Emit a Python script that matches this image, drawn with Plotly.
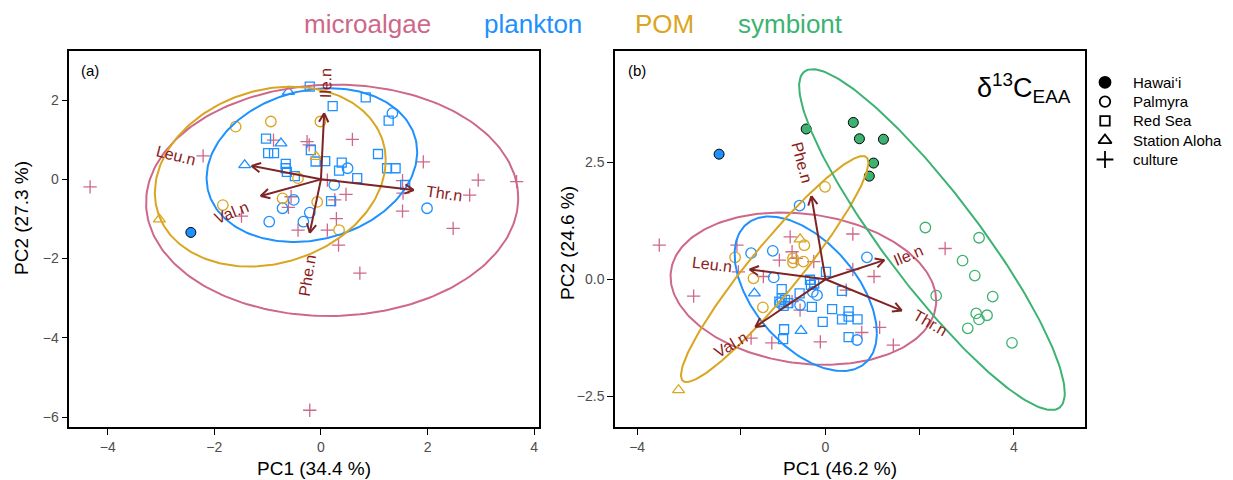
import numpy as np
import plotly.graph_objects as go

W, H = 1233, 480

COL_MICRO = "#CD6889"
COL_PLANK = "#1E90FF"
COL_POM = "#DAA520"
COL_SYMB = "#3CB371"
ARROW_COL = "#7F2424"
LABEL_COL = "#8B1A1A"

# ---------------- Panel (a) data ----------------
a_micro_culture_x = [-4.33, -2.21, -1.49, -0.89, -0.26, -0.22, 0.12, 0.47, 0.26, -0.56, -0.61, 0.29, -0.43,
                     0.12, 0.33, 0.73, 0.59, 1.92, 1.53, 1.54, 1.53, 2.79, 2.95, 2.48, 3.67, -0.21]
a_micro_culture_y = [-0.19, 0.59, -0.93, 0.99, 0.95, 0.87, -0.02, -0.38, -0.52, -0.44, -0.71, -0.99, -1.28,
                     -1.28, -1.66, -2.37, 1.01, 0.44, -0.03, -0.35, -0.80, -0.40, -0.02, -1.24, -0.06, -5.83]
a_plank_redsea_x = [-0.21, 0.22, 0.84, 1.27, -1.03, -0.99, -0.88, -0.19, -0.10, 0.08, -0.66, -0.66, -0.64,
                    -0.49, 0.39, 0.34, 0.68, 1.07, 1.24, 1.40, 1.58, 0.19]
a_plank_redsea_y = [2.34, 1.85, 2.07, 1.48, 1.03, 0.66, 0.66, 0.74, 0.45, 0.46, 0.39, 0.28, 0.19,
                    0.08, 0.42, 0.22, 0.03, 0.64, 0.28, 0.28, -0.14, -0.55]
a_plank_palmyra_x = [1.34, 0.50, 0.25, -0.51, -0.72, -0.21, -0.33, -0.97, 1.99]
a_plank_palmyra_y = [1.67, 0.28, -0.14, -0.52, -0.73, -0.84, -1.07, -1.07, -0.73]
a_plank_aloha_x = [-0.61, -0.75, -1.43]
a_plank_aloha_y = [2.21, 0.91, 0.36]
a_plank_hawaii_x = [-2.44]
a_plank_hawaii_y = [-1.34]
a_pom_palmyra_x = [-1.60, -0.94, -0.01, -0.43, -0.72, -1.84, -0.07, 0.34]
a_pom_palmyra_y = [1.33, 1.46, 1.46, 0.03, -0.48, -0.65, -0.57, -1.28]
a_pom_aloha_x = [-0.09, -3.03]
a_pom_aloha_y = [0.57, -1.01]

a_vec_names = ["Ile.n", "Leu.n", "Val.n", "Phe.n", "Thr.n"]
a_vec_x = [0.06, -1.30, -1.13, -0.21, 1.74]
a_vec_y = [1.67, 0.34, -0.42, -1.35, -0.27]
a_lab_x = [0.09, -2.72, -1.67, -0.26, 2.31]
a_lab_y = [2.42, 0.61, -0.84, -2.42, -0.37]
a_lab_angle = [-89, 14, -22, -81, 8]

# ellipse params: centre x, centre y, sd x, sd y, correlation
a_ell_groups = ["microalgae", "plankton", "POM"]
a_ell_cx = [0.21, -0.17, -0.95]
a_ell_cy = [-0.53, 0.36, 0.07]
a_ell_sx = [3.49, 1.975, 2.165]
a_ell_sy = [2.92, 1.94, 2.27]
a_ell_r = [0.02, 0.17, 0.18]

# ---------------- Panel (b) data ----------------
b_micro_culture_x = [-3.53, -2.80, -1.88, -1.85, -0.75, -0.71, -0.98, -0.62, -0.25, 0.58, 0.58, 1.03, 0.44,
                     -1.32, -0.71, -0.54, 1.15, 0.77, -0.11, -1.14, -1.58, 1.44, 2.54]
b_micro_culture_y = [0.73, -0.36, 0.73, 0.16, 0.91, 0.59, 0.41, 0.45, 0.38, 0.97, 0.21, 0.06, -0.23,
                     0.06, -0.48, -0.66, -1.03, -1.14, -1.34, -1.36, -1.26, -1.41, 0.66]
b_plank_redsea_x = [0.01, -0.33, -0.24, -0.31, 0.35, -0.93, -0.55, -0.93, -0.86, -0.98, -0.79, -0.89, -0.29,
                    0.14, 0.49, 0.49, 0.68, 0.35, -0.06, -0.88, -0.90, 0.49]
b_plank_redsea_y = [0.16, -0.01, -0.09, -0.12, -0.25, -0.21, -0.30, -0.41, -0.44, -0.48, -0.51, -0.57, -0.59,
                    -0.64, -0.68, -0.80, -0.86, -0.86, -0.91, -1.07, -1.28, -1.24]
b_plank_palmyra_x = [-0.55, -1.58, -1.12, -1.10, 0.88, -0.18, -0.27, 0.67, -0.54, -0.96]
b_plank_palmyra_y = [1.58, 0.56, 0.61, 0.04, 0.47, -0.34, -0.27, -1.30, -0.55, -0.51]
b_plank_aloha_x = [-1.51, -0.52]
b_plank_aloha_y = [-0.30, -1.10]
b_plank_hawaii_x = [-2.26]
b_plank_hawaii_y = [2.68]
b_pom_palmyra_x = [-0.01, -0.45, -0.69, -0.69, -0.47, -1.92, -1.53, -1.33]
b_pom_palmyra_y = [1.98, 0.73, 0.45, 0.36, 0.38, 0.47, 0.02, -0.60]
b_pom_aloha_x = [-0.54, -3.12]
b_pom_aloha_y = [0.86, -2.37]
b_symb_hawaii_x = [-0.41, 0.59, 0.72, 1.23, 1.02, 0.93]
b_symb_hawaii_y = [3.22, 3.36, 3.01, 3.00, 2.49, 2.21]
b_symb_palmyra_x = [2.12, 3.26, 2.91, 3.17, 3.55, 2.35, 3.20, 3.43, 3.26, 3.02, 3.96]
b_symb_palmyra_y = [1.11, 0.89, 0.40, 0.08, -0.37, -0.35, -0.73, -0.77, -0.86, -1.05, -1.36]

b_vec_names = ["Phe.n", "Leu.n", "Ile.n", "Thr.n", "Val.n"]
b_vec_x = [-0.30, -1.61, 1.25, 1.62, -1.49]
b_vec_y = [1.78, 0.21, 0.41, -0.67, -1.02]
b_lab_x = [-0.50, -2.41, 1.75, 2.21, -2.01]
b_lab_y = [2.50, 0.31, 0.52, -0.93, -1.39]
b_lab_angle = [75, 7, -23, 30, -30]

b_ell_groups = ["microalgae", "plankton", "POM", "symbiont"]
b_ell_cx = [-0.47, -0.42, -1.08, 2.26]
b_ell_cy = [-0.20, -0.31, 0.22, 0.85]
b_ell_sx = [2.82, 1.51, 1.99, 2.82]
b_ell_sy = [1.63, 1.655, 2.42, 3.65]
b_ell_r = [-0.16, -0.51, 0.94, -0.90]

# axis settings
a_xrange = [-4.72, 4.09]
a_yrange = [-6.26, 3.24]
b_xrange = [-4.47, 5.51]
b_yrange = [-3.17, 4.89]
a_xticks = [-4, -2, 0, 2, 4]
a_yticks = [-6, -4, -2, 0, 2]
b_xticks_labelled = [-4, 0, 4]
b_xticks_unlabelled = [-1.81, 2]
b_yticks = [-2.5, 0, 2.5]
b_yticklabels = ["\u22122.5", "0.0", "2.5"]

group_names = ["microalgae", "plankton", "POM", "symbiont"]
group_colors = [COL_MICRO, COL_PLANK, COL_POM, COL_SYMB]
site_names = ["Hawai\u2018i", "Palmyra", "Red Sea", "Station Aloha", "culture"]
site_symbols = ["circle", "circle-open", "square-open", "triangle-up-open", "cross-thin-open"]
site_sizes = [10, 10.5, 9, 10.5, 9.5]

gcol = dict(zip(group_names, group_colors))
ssym = dict(zip(site_names, site_symbols))
ssize = dict(zip(site_names, site_sizes))

# plot-area geometry (pixels)
A_X0, A_X1 = 69.3, 539.0
B_X0, B_X1 = 615.0, 1085.0
P_Y0, P_Y1 = 51.0, 427.3

fig = go.Figure()


def add_points(xs, ys, group, site, xa, ya):
    sym = ssym[site]
    if sym == "circle":
        marker = dict(symbol=sym, size=ssize[site], color=gcol[group],
                      line=dict(color="black", width=1))
    else:
        marker = dict(symbol=sym, size=ssize[site], color=gcol[group],
                      line=dict(color=gcol[group], width=1.3))
    fig.add_trace(go.Scatter(x=xs, y=ys, mode="markers", marker=marker,
                             xaxis=xa, yaxis=ya, showlegend=False, hoverinfo="skip"))


def add_ellipses(groups, cx, cy, sx, sy, r, xa, ya):
    t = np.linspace(0, 2 * np.pi, 240)
    for g, a, b, c, d, e in zip(groups, cx, cy, sx, sy, r):
        ex = a + c * np.cos(t)
        ey = b + d * (e * np.cos(t) + np.sqrt(1 - e * e) * np.sin(t))
        fig.add_trace(go.Scatter(x=ex, y=ey, mode="lines", line=dict(color=gcol[g], width=2),
                                 xaxis=xa, yaxis=ya, showlegend=False, hoverinfo="skip"))


def add_vectors(vx, vy, xrange_, yrange_, pxw, pxh, xa, ya):
    kx = pxw / (xrange_[1] - xrange_[0])   # px per unit
    ky = pxh / (yrange_[1] - yrange_[0])
    head = 10.0
    spread = np.radians(28)
    xs, ys = [], []
    for a, b in zip(vx, vy):
        xs += [0, a, None]
        ys += [0, b, None]
        ang = np.arctan2(b * ky, a * kx)
        for s in (spread, -spread):
            hx = a - head * np.cos(ang + s) / kx
            hy = b - head * np.sin(ang + s) / ky
            xs += [a, hx, None]
            ys += [b, hy, None]
    fig.add_trace(go.Scatter(x=xs, y=ys, mode="lines", line=dict(color=ARROW_COL, width=2),
                             xaxis=xa, yaxis=ya, showlegend=False, hoverinfo="skip"))


# panel a
add_points(a_micro_culture_x, a_micro_culture_y, "microalgae", "culture", "x", "y")
add_points(a_plank_redsea_x, a_plank_redsea_y, "plankton", "Red Sea", "x", "y")
add_points(a_plank_palmyra_x, a_plank_palmyra_y, "plankton", "Palmyra", "x", "y")
add_points(a_plank_aloha_x, a_plank_aloha_y, "plankton", "Station Aloha", "x", "y")
add_points(a_pom_palmyra_x, a_pom_palmyra_y, "POM", "Palmyra", "x", "y")
add_points(a_pom_aloha_x, a_pom_aloha_y, "POM", "Station Aloha", "x", "y")
add_points(a_plank_hawaii_x, a_plank_hawaii_y, "plankton", "Hawai\u2018i", "x", "y")
add_ellipses(a_ell_groups, a_ell_cx, a_ell_cy, a_ell_sx, a_ell_sy, a_ell_r, "x", "y")
add_vectors(a_vec_x, a_vec_y, a_xrange, a_yrange, A_X1 - A_X0, P_Y1 - P_Y0, "x", "y")

# panel b
add_points(b_micro_culture_x, b_micro_culture_y, "microalgae", "culture", "x2", "y2")
add_points(b_plank_redsea_x, b_plank_redsea_y, "plankton", "Red Sea", "x2", "y2")
add_points(b_plank_palmyra_x, b_plank_palmyra_y, "plankton", "Palmyra", "x2", "y2")
add_points(b_plank_aloha_x, b_plank_aloha_y, "plankton", "Station Aloha", "x2", "y2")
add_points(b_pom_palmyra_x, b_pom_palmyra_y, "POM", "Palmyra", "x2", "y2")
add_points(b_pom_aloha_x, b_pom_aloha_y, "POM", "Station Aloha", "x2", "y2")
add_points(b_symb_palmyra_x, b_symb_palmyra_y, "symbiont", "Palmyra", "x2", "y2")
add_points(b_plank_hawaii_x, b_plank_hawaii_y, "plankton", "Hawai\u2018i", "x2", "y2")
add_points(b_symb_hawaii_x, b_symb_hawaii_y, "symbiont", "Hawai\u2018i", "x2", "y2")
add_ellipses(b_ell_groups, b_ell_cx, b_ell_cy, b_ell_sx, b_ell_sy, b_ell_r, "x2", "y2")
add_vectors(b_vec_x, b_vec_y, b_xrange, b_yrange, B_X1 - B_X0, P_Y1 - P_Y0, "x2", "y2")

annotations = []


def add_vec_labels(names, lx, ly, ang, xr, yr):
    for n, c, d, e in zip(names, lx, ly, ang):
        annotations.append(dict(x=c, y=d, xref=xr, yref=yr, text=n, showarrow=False,
                                textangle=e, font=dict(size=16, color=LABEL_COL)))


add_vec_labels(a_vec_names, a_lab_x, a_lab_y, a_lab_angle, "x", "y")
add_vec_labels(b_vec_names, b_lab_x, b_lab_y, b_lab_angle, "x2", "y2")


def paper(px, py):
    return px / W, 1 - py / H


# shape key (manual legend) on its own invisible axes: x4/y4 span the legend box in pixels
LEG_X0, LEG_X1, LEG_Y0, LEG_Y1 = 1090, 1233, 70, 170
leg_rows = list(range(len(site_names)))
leg_row_y = [82.3 + 19.3 * i for i in leg_rows]   # pixel centres of rows
fig.add_trace(go.Scatter(
    x=[1105] * len(site_names), y=leg_row_y, mode="markers",
    marker=dict(symbol=site_symbols, size=[11, 10.5, 9.5, 11.5, 12], color="#000000",
                opacity=1, line=dict(color="#000000", width=1.8)),
    xaxis="x4", yaxis="y4", showlegend=False, hoverinfo="skip"))
for s, ry in zip(site_names, leg_row_y):
    annotations.append(dict(x=1131, y=ry, xref="x4", yref="y4", text=s, showarrow=False,
                            xanchor="left", yanchor="middle",
                            font=dict(size=15, color="black")))

# group key at top
title_px = [367, 533, 664, 790]
for g, c, tx in zip(group_names, group_colors, title_px):
    x, y = paper(tx, 24)
    annotations.append(dict(x=x, y=y, xref="paper", yref="paper", text=g, showarrow=False,
                            font=dict(size=26, color=c), xanchor="center", yanchor="middle"))

# axis titles
axis_titles = [("PC1 (34.4 %)", 314, 468, 0), ("PC1 (46.2 %)", 840, 468, 0),
               ("PC2 (27.3 %)", 22, 218, -90), ("PC2 (24.6 %)", 567, 243, -90)]
for txt, tx, ty, ang in axis_titles:
    x, y = paper(tx, ty)
    annotations.append(dict(x=x, y=y, xref="paper", yref="paper", text=txt, showarrow=False,
                            textangle=ang, font=dict(size=19, color="black"),
                            xanchor="center", yanchor="middle"))

for txt, tx in [("(a)", 90), ("(b)", 637)]:
    x, y = paper(tx, 70)
    annotations.append(dict(x=x, y=y, xref="paper", yref="paper", text=txt, showarrow=False,
                            font=dict(size=15, color="black"), xanchor="center", yanchor="middle"))

x, y = paper(1073, 88)
annotations.append(dict(x=x, y=y, xref="paper", yref="paper",
                        text="\u03b4<sup>13</sup>C<sub>EAA</sub>", showarrow=False,
                        font=dict(size=27, color="black"), xanchor="right", yanchor="middle"))

axis_common = dict(showline=True, linecolor="black", linewidth=1.5, mirror=True,
                   ticks="outside", ticklen=6, tickwidth=1.2, tickcolor="black",
                   showgrid=False, zeroline=False,
                   tickfont=dict(size=14, color="#4D4D4D"))

fig.update_layout(
    width=W, height=H, autosize=False,
    margin=dict(l=0, r=0, t=0, b=0),
    paper_bgcolor="white", plot_bgcolor="white",
    font=dict(family="Liberation Sans, Arial, Helvetica, sans-serif"),
    showlegend=False,
    xaxis=dict(domain=[A_X0 / W, A_X1 / W], range=a_xrange, tickvals=a_xticks,
               anchor="y", **axis_common),
    yaxis=dict(domain=[1 - P_Y1 / H, 1 - P_Y0 / H], range=a_yrange,
               tickvals=a_yticks, anchor="x", **axis_common),
    xaxis2=dict(domain=[B_X0 / W, B_X1 / W], range=b_xrange,
                tickvals=b_xticks_labelled, anchor="y2",
                minor=dict(tickvals=b_xticks_unlabelled, ticks="outside", ticklen=6,
                           tickwidth=1.2, tickcolor="black", showgrid=False),
                **axis_common),
    yaxis2=dict(domain=[1 - P_Y1 / H, 1 - P_Y0 / H], range=b_yrange,
                tickvals=b_yticks, ticktext=b_yticklabels, anchor="x2", **axis_common),
    xaxis4=dict(domain=[LEG_X0 / W, LEG_X1 / W], range=[LEG_X0, LEG_X1], visible=False,
                fixedrange=True, anchor="y4"),
    yaxis4=dict(domain=[1 - LEG_Y1 / H, 1 - LEG_Y0 / H], range=[LEG_Y1, LEG_Y0], visible=False,
                fixedrange=True, anchor="x4"),
    annotations=annotations,
)

fig.write_html("out.html")
